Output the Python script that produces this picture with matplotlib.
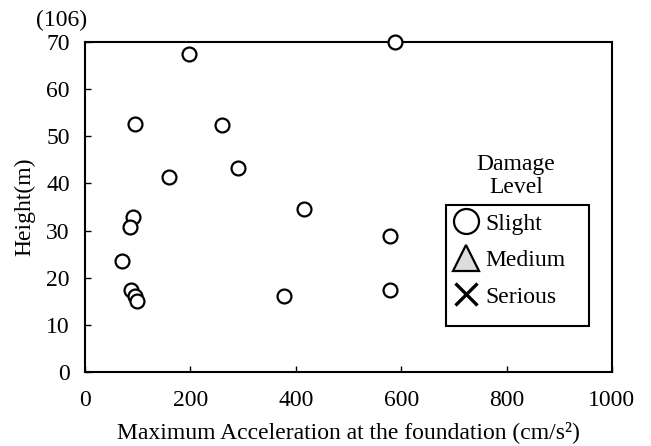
import matplotlib
matplotlib.use("Agg")
import matplotlib.pyplot as plt
from matplotlib.lines import Line2D
from matplotlib.patches import Rectangle

plt.rcParams['font.family'] = ['Liberation Serif', 'DejaVu Serif']

# Data (Slight damage)
slight_x = [197, 95, 260, 159, 290, 416, 91, 85, 70, 87, 95, 99, 377, 579, 579, 588]
slight_y = [67.5, 52.6, 52.4, 41.4, 43.3, 34.5, 32.9, 30.8, 23.5, 17.4, 16.1, 15.1, 16.1, 28.9, 17.4, 70]
medium_x, medium_y = [], []
serious_x, serious_y = [], []

levels = ['Slight', 'Medium', 'Serious']
xticks = [0, 200, 400, 600, 800, 1000]
yticks = [0, 10, 20, 30, 40, 50, 60, 70]

FS = 17

fig = plt.figure(figsize=(6.51, 4.46), dpi=100)
ax = fig.add_axes([0.1306, 0.166, 0.8094, 0.740])

ax.plot(slight_x, slight_y, linestyle='none', marker='o', markersize=10,
        markerfacecolor='white', markeredgecolor='black', markeredgewidth=1.6,
        clip_on=False, zorder=3)
ax.plot(medium_x, medium_y, linestyle='none', marker='^')
ax.plot(serious_x, serious_y, linestyle='none', marker='x')

ax.set_xlim(0, 1000)
ax.set_ylim(0, 70)
ax.set_xticks(xticks)
ax.set_yticks(yticks)
ax.tick_params(direction='in', length=4, width=1, labelsize=FS)
ax.tick_params(axis='y', pad=11)
ax.tick_params(axis='x', pad=13)
for s in ax.spines.values():
    s.set_linewidth(1.5)

ax.set_xlabel('Maximum Acceleration at the foundation (cm/s²)', fontsize=FS, labelpad=7)
ax.set_ylabel('Height(m)', fontsize=FS, labelpad=8)

fig.text(62 / 651, 1 - 20 / 446, '(106)', fontsize=FS, ha='center', va='center')

handles = [
    Line2D([], [], linestyle='none', marker='o', markersize=18, markerfacecolor='white',
           markeredgecolor='black', markeredgewidth=1.6),
    Line2D([], [], linestyle='none', marker='^', markersize=19, markerfacecolor='#dddddd',
           markeredgecolor='black', markeredgewidth=1.6),
    Line2D([], [], linestyle='none', marker='x', markersize=16, markeredgecolor='black',
           markeredgewidth=2.4),
]
ax.add_patch(Rectangle((0.685, 0.139), 0.271, 0.367, transform=ax.transAxes,
                       facecolor='white', edgecolor='black', linewidth=1.5,
                       zorder=4))
leg = ax.legend(handles, levels, loc='upper left',
                bbox_to_anchor=(0.685, 0.506),
                frameon=False, fontsize=FS, handlelength=1.0,
                handletextpad=0.3, borderpad=0.35, labelspacing=0.63,
                borderaxespad=0)
leg.set_zorder(5)

ax.text(0.818, 0.594, 'Damage\nLevel', transform=ax.transAxes, ha='center', va='center',
        fontsize=FS, linespacing=1.15)

fig.savefig('out.png', dpi=100)
